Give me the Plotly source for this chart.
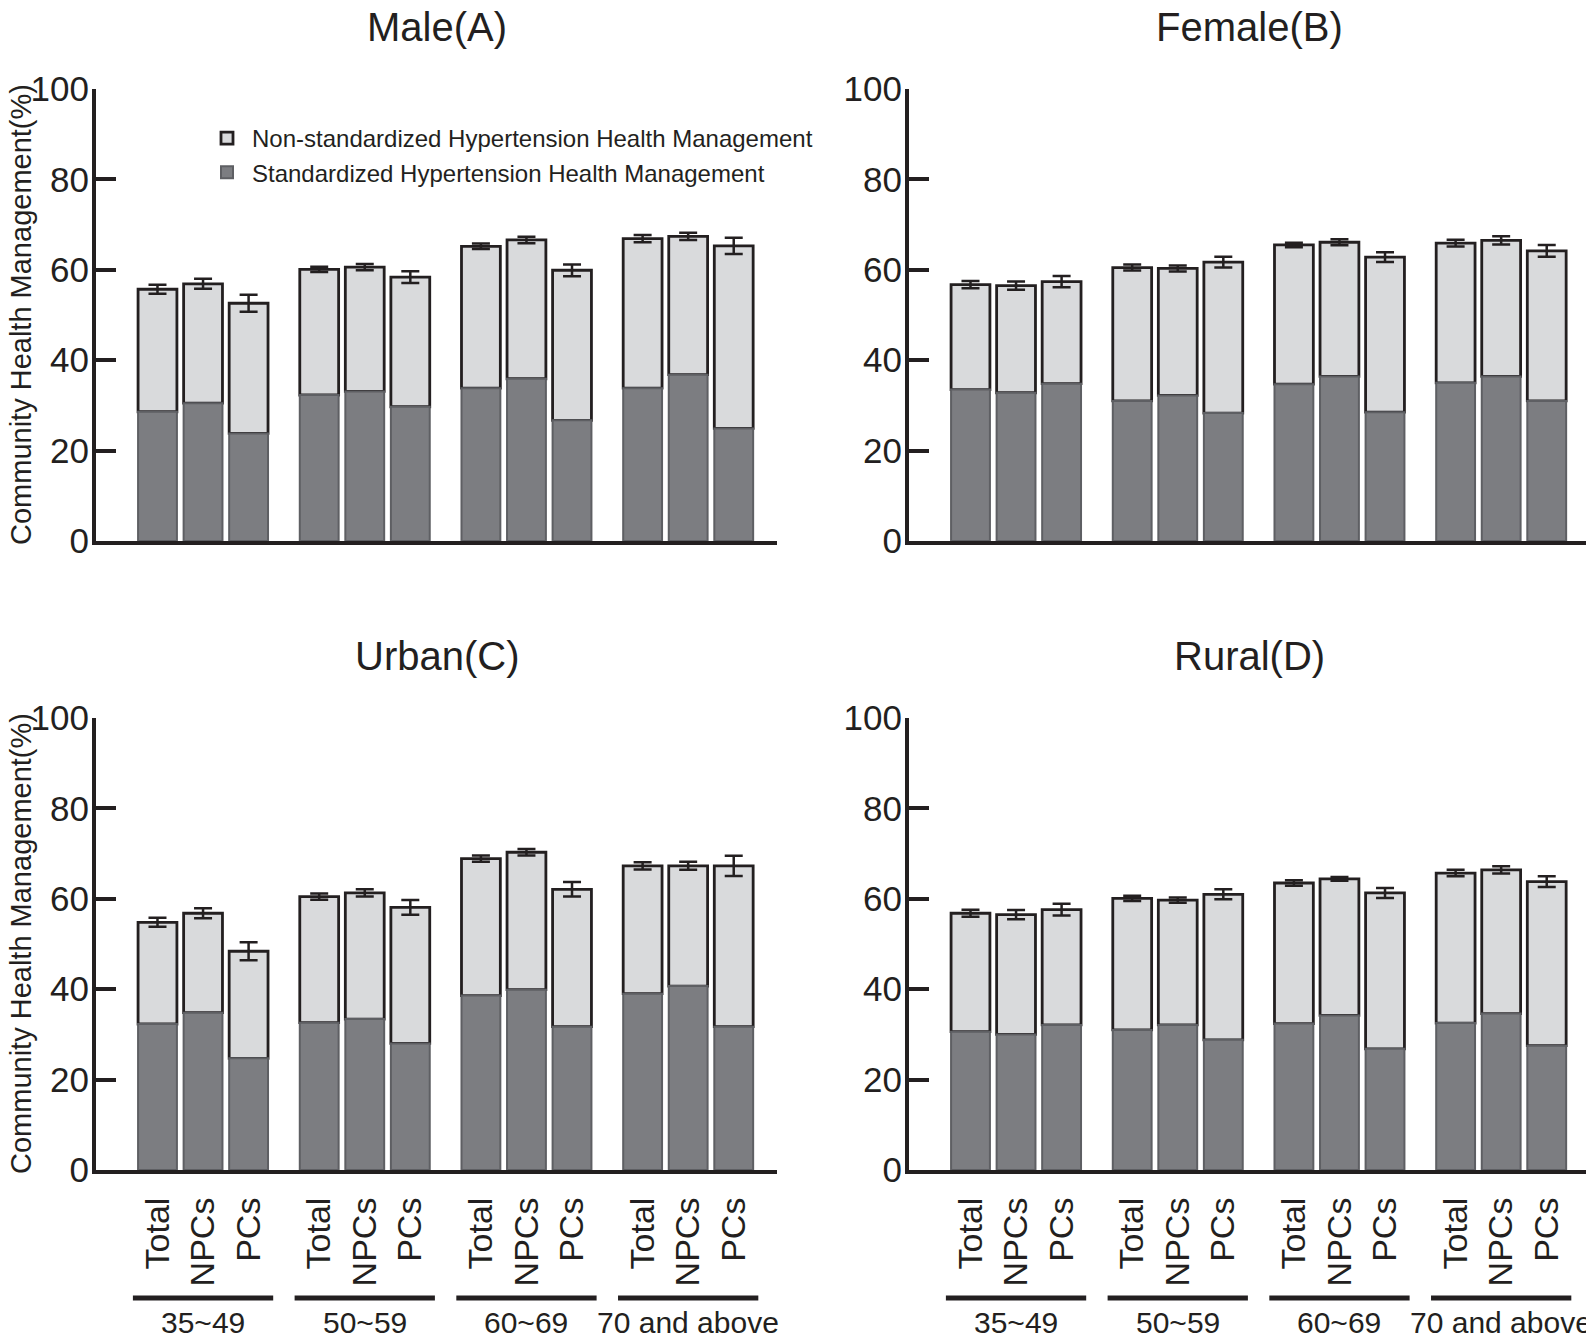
import plotly.graph_objects as go

# ---------------- data ----------------
groups = ["35~49", "50~59", "60~69", "70 and above"]
subgroups = ["Total", "NPCs", "PCs"]
panel_titles = ["Male(A)", "Female(B)", "Urban(C)", "Rural(D)"]
series_names = ["Non-standardized Hypertension Health Management",
                "Standardized Hypertension Health Management"]
y_title = "Community Health Management(%)"
y_ticks = [0, 20, 40, 60, 80, 100]

male_std = [28.6, 30.5, 23.8, 32.3, 33.1, 29.7, 33.8, 35.9, 26.7, 33.8, 36.8, 24.9]
male_total = [55.7, 56.9, 52.6, 60.1, 60.6, 58.4, 65.2, 66.6, 59.9, 66.9, 67.4, 65.3]
male_err = [1.0, 1.1, 1.9, 0.6, 0.7, 1.3, 0.6, 0.7, 1.3, 0.8, 0.8, 1.8]

female_std = [33.5, 32.8, 34.8, 31.0, 32.2, 28.3, 34.7, 36.4, 28.5, 35.0, 36.4, 31.0]
female_total = [56.7, 56.5, 57.4, 60.5, 60.3, 61.7, 65.5, 66.1, 62.8, 65.9, 66.5, 64.2]
female_err = [0.8, 0.9, 1.25, 0.65, 0.65, 1.2, 0.5, 0.65, 1.1, 0.75, 0.9, 1.3]

urban_std = [32.3, 34.8, 24.7, 32.6, 33.4, 28.0, 38.6, 39.9, 31.7, 39.0, 40.7, 31.7]
urban_total = [54.8, 56.8, 48.4, 60.5, 61.3, 58.1, 68.9, 70.3, 62.1, 67.3, 67.3, 67.3]
urban_err = [1.0, 1.1, 2.0, 0.7, 0.8, 1.65, 0.7, 0.7, 1.6, 0.8, 0.9, 2.25]

rural_std = [30.6, 30.0, 32.1, 31.0, 32.1, 28.8, 32.4, 34.2, 26.8, 32.5, 34.6, 27.5]
rural_total = [56.8, 56.5, 57.6, 60.1, 59.7, 61.0, 63.5, 64.4, 61.3, 65.7, 66.4, 63.8]
rural_err = [0.75, 1.0, 1.3, 0.6, 0.6, 1.1, 0.6, 0.4, 1.1, 0.7, 0.8, 1.2]

panels = [
    (male_std, male_total, male_err),
    (female_std, female_total, female_err),
    (urban_std, urban_total, urban_err),
    (rural_std, rural_total, rural_err),
]

# ---------------- styling / geometry ----------------
W, H = 1594, 1339
OFF = 8  # the page body margin shifts the figure by this many px
INK = "#231f20"
LIGHT = "#d9dadc"
DARK = "#7c7d81"
DARK_EDGE = "#5e5f63"
FONT = "Liberation Sans, Arial, Helvetica, sans-serif"

GROUP_PITCH = 3.55
BAR_W = 0.853
X_RANGE = [-1.35, 3 * GROUP_PITCH + 2 + 0.95]

xpos = [g * GROUP_PITCH + i for g in range(len(groups)) for i in range(len(subgroups))]
ticktext = subgroups * len(groups)

# target pixel domains in the screenshot
x_dom = [(96, 777), (909, 1590)]
y_dom = [(89, 541), (718, 1170)]


def xd(p):
    return [(p[0] - OFF) / W, (p[1] - OFF) / W]


def yd(p):
    return [(H - (p[1] - OFF)) / H, (H - (p[0] - OFF)) / H]


fig = go.Figure()

for k, (std, tot, err) in enumerate(panels):
    xa = "x" if k == 0 else f"x{k + 1}"
    ya = "y" if k == 0 else f"y{k + 1}"
    non = [round(t - s, 2) for t, s in zip(tot, std)]
    fig.add_trace(go.Bar(
        x=xpos, y=non, base=std, width=BAR_W,
        marker=dict(color=LIGHT, line=dict(color=INK, width=2.8)),
        error_y=dict(type="data", array=err, visible=True, color=INK, thickness=2.5, width=9),
        name=series_names[0], legendgroup="non", showlegend=(k == 0),
        xaxis=xa, yaxis=ya,
    ))
    fig.add_trace(go.Bar(
        x=xpos, y=std, width=BAR_W,
        marker=dict(color=DARK, line=dict(color=DARK_EDGE, width=2)),
        name=series_names[1], legendgroup="std", showlegend=(k == 0),
        xaxis=xa, yaxis=ya,
    ))

layout_axes = {}
for k in range(4):
    col, row = k % 2, k // 2
    xkey = "xaxis" if k == 0 else f"xaxis{k + 1}"
    ykey = "yaxis" if k == 0 else f"yaxis{k + 1}"
    ya = "y" if k == 0 else f"y{k + 1}"
    xa = "x" if k == 0 else f"x{k + 1}"
    bottom = row == 1
    layout_axes[xkey] = dict(
        domain=xd(x_dom[col]), anchor=ya, range=X_RANGE, automargin=False,
        showline=True, linewidth=4, linecolor=INK, mirror=False,
        ticks="", showgrid=False, zeroline=False,
        tickmode="array", tickvals=xpos, ticktext=ticktext,
        tickangle=-90, showticklabels=bottom, ticklabelstandoff=10,
        tickfont=dict(family=FONT, size=34, color=INK),
    )
    layout_axes[ykey] = dict(
        domain=yd(y_dom[row]), anchor=xa, range=[0, 100], automargin=False,
        showline=True, linewidth=4, linecolor=INK,
        ticks="inside", ticklen=20, tickwidth=4, tickcolor=INK,
        tickmode="array", tickvals=y_ticks,
        showgrid=False, zeroline=False, ticklabelstandoff=-4,
        tickfont=dict(family=FONT, size=35, color=INK),
    )

fig.update_layout(**layout_axes)

annotations = []
shapes = []
for k, title in enumerate(panel_titles):
    xa = "x" if k == 0 else f"x{k + 1}"
    ya = "y" if k == 0 else f"y{k + 1}"
    col, row = k % 2, k // 2
    annotations.append(dict(
        text=title, xref=f"{xa} domain", x=0.5, yref=f"{ya} domain", y=1 + 62 / 452,
        yanchor="middle", showarrow=False, font=dict(family=FONT, size=40, color=INK),
    ))
    if col == 0:
        annotations.append(dict(
            text=y_title, textangle=-90, xref="paper", x=(21 - OFF) / W, xanchor="center",
            yref=f"{ya} domain", y=0.5, yanchor="middle", showarrow=False,
            font=dict(family=FONT, size=29, color=INK),
        ))
    if row == 1:
        for g, gname in enumerate(groups):
            mid = g * GROUP_PITCH + 1
            shapes.append(dict(
                type="line", xref=xa, yref=f"{ya} domain",
                x0=mid - 1.54, x1=mid + 1.54, y0=-0.283, y1=-0.283,
                line=dict(color=INK, width=5),
            ))
            annotations.append(dict(
                text=gname, xref=xa, x=mid, yref=f"{ya} domain", y=-0.338,
                yanchor="middle", showarrow=False,
                font=dict(family=FONT, size=30, color=INK),
            ))

fig.update_layout(
    template="none",
    width=W, height=H, autosize=False,
    margin=dict(l=0, r=0, t=0, b=0, pad=0, autoexpand=False),
    paper_bgcolor="white", plot_bgcolor="white",
    barmode="overlay",
    font=dict(family=FONT, color=INK),
    annotations=annotations, shapes=shapes,
    legend=dict(
        x=(202 - OFF) / W, y=1 - (116 - OFF) / H, xanchor="left", yanchor="top",
        traceorder="normal", bgcolor="rgba(0,0,0,0)", borderwidth=0,
        font=dict(family=FONT, size=24, color=INK),
        itemwidth=40, tracegroupgap=0,
    ),
)

fig.write_html("out.html")
